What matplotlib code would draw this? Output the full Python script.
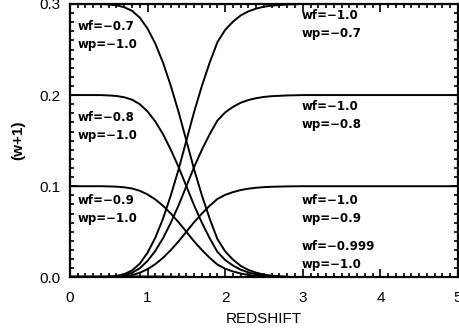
import matplotlib
matplotlib.use("Agg")
import matplotlib.pyplot as plt
from matplotlib.ticker import MultipleLocator

plt.rcParams['font.family'] = ['Liberation Sans', 'DejaVu Sans']

# redshift grid the curves were read on
z = [0.0, 0.4, 0.5, 0.6, 0.7, 0.8, 0.9, 1.0, 1.1, 1.2, 1.3, 1.4, 1.5, 1.6, 1.7,
     1.8, 1.9, 2.0, 2.1, 2.2, 2.3, 2.4, 2.5, 2.6, 2.8, 3.0, 3.5, 5.0]

# wf != -1, wp = -1 (falling curves)
fall_07 = [0.3, 0.3, 0.2994, 0.2985, 0.2964, 0.2925, 0.285, 0.273, 0.2565, 0.2355, 0.21, 0.1815,
           0.15, 0.1185, 0.09, 0.0645, 0.042, 0.0285, 0.0195, 0.0126, 0.0081, 0.0051, 0.003,
           0.0018, 0.0006, 0.0, 0.0, 0.0]
fall_08 = [0.2, 0.2, 0.1996, 0.199, 0.1976, 0.195, 0.19, 0.182, 0.171, 0.157, 0.14, 0.121,
           0.1, 0.079, 0.06, 0.043, 0.028, 0.019, 0.013, 0.0084, 0.0054, 0.0034, 0.002,
           0.0012, 0.0004, 0.0, 0.0, 0.0]
fall_09 = [0.1, 0.1, 0.0998, 0.0995, 0.0988, 0.0975, 0.095, 0.091, 0.0855, 0.0785, 0.07, 0.0605,
           0.05, 0.0395, 0.03, 0.0215, 0.014, 0.0095, 0.0065, 0.0042, 0.0027, 0.0017, 0.001,
           0.0006, 0.0002, 0.0, 0.0, 0.0]
fall_0999 = [0.001, 0.001, 0.001, 0.001, 0.001, 0.001, 0.001, 0.0009, 0.0009, 0.0008, 0.0007, 0.0006,
             0.0005, 0.0004, 0.0003, 0.0002, 0.0001, 0.0001, 0.0, 0.0, 0.0, 0.0, 0.0,
             0.0, 0.0, 0.0, 0.0, 0.0]

# wf = -1, wp != -1 (rising curves)
rise_07 = [0.0, 0.0, 0.0006, 0.0015, 0.0036, 0.0075, 0.015, 0.027, 0.0435, 0.0645, 0.09, 0.1185,
           0.15, 0.1815, 0.21, 0.2355, 0.258, 0.2715, 0.2805, 0.2874, 0.2919, 0.2949, 0.297,
           0.2982, 0.2994, 0.3, 0.3, 0.3]
rise_08 = [0.0, 0.0, 0.0004, 0.001, 0.0024, 0.005, 0.01, 0.018, 0.029, 0.043, 0.06, 0.079,
           0.1, 0.121, 0.14, 0.157, 0.172, 0.181, 0.187, 0.1916, 0.1946, 0.1966, 0.198,
           0.1988, 0.1996, 0.2, 0.2, 0.2]
rise_09 = [0.0, 0.0, 0.0002, 0.0005, 0.0012, 0.0025, 0.005, 0.009, 0.0145, 0.0215, 0.03, 0.0395,
           0.05, 0.0605, 0.07, 0.0785, 0.086, 0.0905, 0.0935, 0.0958, 0.0973, 0.0983, 0.099,
           0.0994, 0.0998, 0.1, 0.1, 0.1]

left_labels = ["wf=\u22120.7\nwp=\u22121.0", "wf=\u22120.8\nwp=\u22121.0", "wf=\u22120.9\nwp=\u22121.0"]
right_labels = ["wf=\u22121.0\nwp=\u22120.7", "wf=\u22121.0\nwp=\u22120.8", "wf=\u22121.0\nwp=\u22120.9",
                "wf=\u22120.999\nwp=\u22121.0"]

fig = plt.figure(figsize=(4.6, 3.29), dpi=100)
ax = fig.add_axes([0.152, 0.157, 0.8437, 0.831])

for y in [fall_07, fall_08, fall_09, fall_0999, rise_07, rise_08, rise_09]:
    ax.plot(z, y, color='black', lw=1.4)

ax.set_xlim(0, 5)
ax.set_ylim(0, 0.3)
ax.xaxis.set_major_locator(MultipleLocator(1))
ax.xaxis.set_minor_locator(MultipleLocator(0.1))
ax.yaxis.set_major_locator(MultipleLocator(0.1))
ax.yaxis.set_minor_locator(MultipleLocator(0.01))
ax.yaxis.set_major_formatter(matplotlib.ticker.FormatStrFormatter('%.1f'))
ax.tick_params(which='both', direction='in', top=True, right=True, width=1.2, labelsize=11)
ax.tick_params(which='major', length=6, pad=7)
ax.tick_params(which='minor', length=3)
ax.tick_params(axis='x', which='major', pad=10)
for s in ax.spines.values():
    s.set_linewidth(1.6)

ax.set_xlabel('REDSHIFT', fontsize=11, labelpad=5)
ax.set_ylabel('(w+1)', fontsize=11, fontweight='bold', labelpad=10)

# curve labels
lab_font = dict(fontsize=8.5, fontweight='bold', family=['DejaVu Sans'],
                va='center', ha='left', linespacing=1.5)
for lab, yy in zip(left_labels, [0.2655, 0.1655, 0.0745]):
    ax.text(0.1, yy, lab, **lab_font)
for lab, yy in zip(right_labels, [0.277, 0.1775, 0.0745, 0.0245]):
    ax.text(2.99, yy, lab, **lab_font)

fig.savefig('out.png', dpi=100)
